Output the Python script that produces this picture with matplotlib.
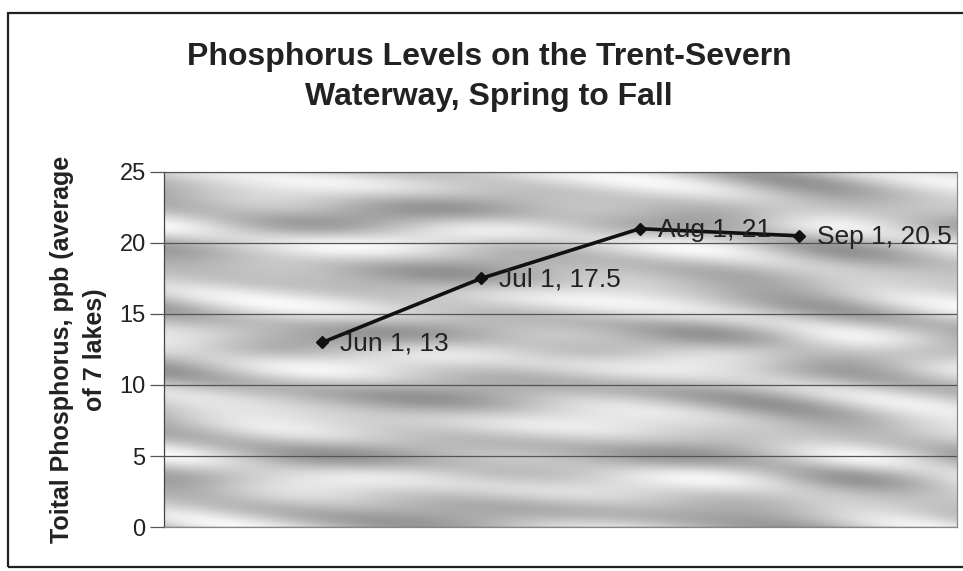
import numpy as np
import matplotlib
matplotlib.use("Agg")
import matplotlib.pyplot as plt
from matplotlib.patches import Rectangle

# data
months = ["Jun 1", "Jul 1", "Aug 1", "Sep 1"]
x_pos = [1, 2, 3, 4]
phosphorus = [13, 17.5, 21, 20.5]
y_ticks = [0, 5, 10, 15, 20, 25]

plt.rcParams['font.family'] = ['Liberation Sans', 'DejaVu Sans']

fig = plt.figure(figsize=(9.63, 5.71), dpi=100)
ax = fig.add_axes([0.170, 0.077, 0.824, 0.622])

# outer chart frame
fig.patches.append(Rectangle((0.008, 0.007), 1.2, 0.970, transform=fig.transFigure,
                             fill=False, edgecolor='#222222', lw=1.6))

# wavy grey texture in the plot area (decoration only)
gx, gy = np.meshgrid(np.linspace(0, 1, 500), np.linspace(0, 1, 300))
tex = (np.sin(2 * np.pi * (6.0 * gy + 1.2 * gx + 0.30 * np.sin(2 * np.pi * 1.1 * gx + 0.8 * gy)))
       + 0.6 * np.sin(2 * np.pi * (2.3 * gx - 3.1 * gy + 0.2 * np.sin(2 * np.pi * 3 * gy)))
       + 0.35 * np.sin(2 * np.pi * (11 * gy + 2.5 * gx)))
tex = (tex - tex.min()) / (tex.max() - tex.min())
ax.imshow(tex, cmap='gray', vmin=-1.4, vmax=1.06, extent=[0, 5, 0, 25],
          aspect='auto', origin='lower', zorder=0, interpolation='bilinear')

ax.set_xlim(0, 5)
ax.set_ylim(0, 25)
ax.set_yticks(y_ticks)
ax.set_xticks([])
ax.yaxis.grid(True, color='#555555', lw=0.9)
ax.set_axisbelow(False)
for s in ax.spines.values():
    s.set_color('#888888')
    s.set_linewidth(0.9)
ax.spines['left'].set_color('#444444')
ax.tick_params(axis='y', labelsize=17, length=10, width=0.9, color='#555555',
               pad=3, labelcolor='#222222')

ax.plot(x_pos, phosphorus, color='#111111', lw=2.6, marker='D', markersize=6.5, zorder=3)
for x, y, m in zip(x_pos, phosphorus, months):
    ax.annotate(f"{m}, {y:g}", (x, y), xytext=(13, -1), textcoords='offset points',
                va='center', ha='left', fontsize=19, color='#222222', zorder=4)

ax.set_ylabel("Toital Phosphorus, ppb (average\nof 7 lakes)", fontsize=18,
              fontweight='bold', color='#222222', linespacing=1.45, labelpad=9)

fig.text(0.508, 0.865, "Phosphorus Levels on the Trent-Severn\nWaterway, Spring to Fall",
         ha='center', va='center', fontsize=23, fontweight='bold', color='#222222',
         linespacing=1.45)

fig.savefig("out.png", dpi=100)
